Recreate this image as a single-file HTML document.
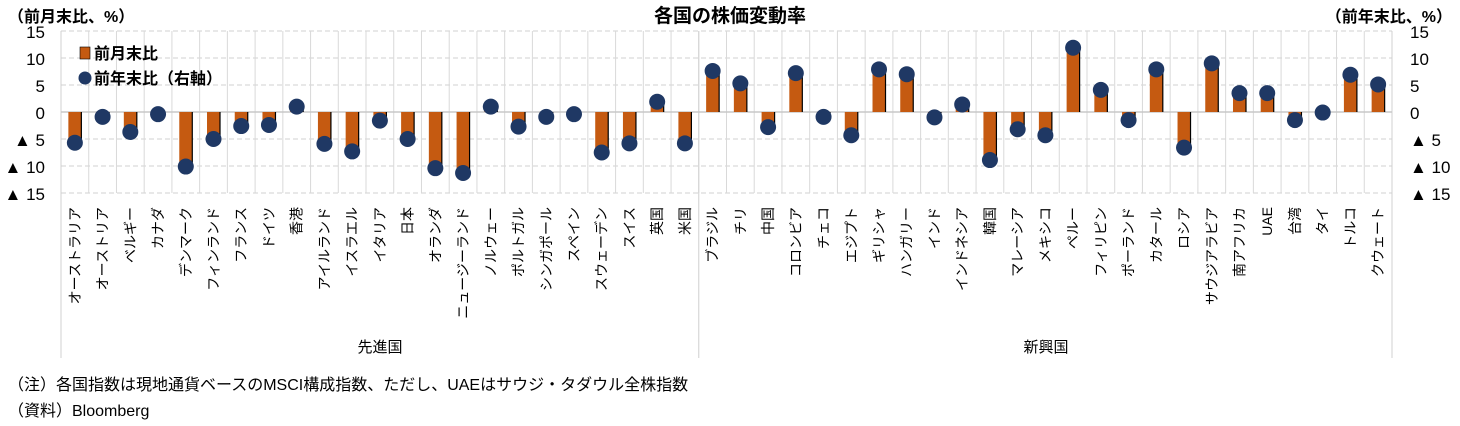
<!DOCTYPE html>
<html><head><meta charset="utf-8"><style>
html,body{margin:0;padding:0;background:#fff;}
svg{display:block;font-family:"Liberation Sans","Noto Sans CJK JP",sans-serif;}
</style></head><body>
<svg id="s" width="1460" height="426" viewBox="0 0 1460 426" xmlns="http://www.w3.org/2000/svg">
<rect width="1460" height="426" fill="#fff"/>
<text x="730" y="22" font-size="19" font-weight="bold" text-anchor="middle" fill="#000">各国の株価変動率</text>
<text x="8" y="22" font-size="16" font-weight="bold" fill="#000">（前月末比、%）</text>
<text x="1452" y="22" font-size="16" font-weight="bold" text-anchor="end" fill="#000">（前年末比、%）</text>
<g id="grid"></g>
<g id="bars"></g>
<g id="labels" font-size="14" fill="#000"></g>
<g font-size="17" fill="#000">
<text x="45" y="38" text-anchor="end">15</text>
<text x="45" y="65" text-anchor="end">10</text>
<text x="45" y="92" text-anchor="end">5</text>
<text x="45" y="119" text-anchor="end">0</text>
<text x="45" y="146" text-anchor="end">▲ 5</text>
<text x="45" y="173" text-anchor="end">▲ 10</text>
<text x="45" y="200" text-anchor="end">▲ 15</text>
<text x="1410" y="38">15</text>
<text x="1410" y="65">10</text>
<text x="1410" y="92">5</text>
<text x="1410" y="119">0</text>
<text x="1410" y="146">▲ 5</text>
<text x="1410" y="173">▲ 10</text>
<text x="1410" y="200">▲ 15</text>
</g>
<rect x="80" y="47" width="10" height="12" fill="#c55a11" stroke="#000" stroke-width="0.6"/>
<text x="94" y="59" font-size="16" font-weight="bold" fill="#000">前月末比</text>
<circle cx="85" cy="78" r="6.5" fill="#1f3864"/>
<text x="94" y="84" font-size="16" font-weight="bold" fill="#000">前年末比（右軸）</text>
<text x="380" y="352" font-size="15" text-anchor="middle" fill="#000">先進国</text>
<text x="1046" y="352" font-size="15" text-anchor="middle" fill="#000">新興国</text>
<text x="8" y="390" font-size="16" fill="#000">（注）各国指数は現地通貨ベースのMSCI構成指数、ただし、UAEはサウジ・タダウル全株指数</text>
<text x="8" y="416" font-size="16" fill="#000">（資料）Bloomberg</text>
</svg>
<script>
const names=["オーストラリア","オーストリア","ベルギー","カナダ","デンマーク","フィンランド","フランス","ドイツ","香港","アイルランド","イスラエル","イタリア","日本","オランダ","ニュージーランド","ノルウェー","ポルトガル","シンガポール","スペイン","スウェーデン","スイス","英国","米国","ブラジル","チリ","中国","コロンビア","チェコ","エジプト","ギリシャ","ハンガリー","インド","インドネシア","韓国","マレーシア","メキシコ","ペルー","フィリピン","ポーランド","カタール","ロシア","サウジアラビア","南アフリカ","UAE","台湾","タイ","トルコ","クウェート"];
const v=[-5.7,-0.5,-3.7,-0.3,-10.1,-5,-2.6,-2.4,1,-5.9,-7.3,-1.6,-5,-10.4,-11.3,1,-2.7,-0.9,-0.4,-7.5,-5.8,1.9,-5.8,7.6,5.3,-2.8,7.2,-0.9,-4.3,7.9,7,-1,1.4,-8.9,-3.2,-4.3,11.9,4.1,-1.5,7.9,-6.6,9,3.5,3.5,-1.5,-0.1,6.9,5.1];
const d=[-5.7,-0.9,-3.7,-0.4,-10.1,-5,-2.6,-2.4,1,-5.9,-7.3,-1.6,-5,-10.4,-11.3,1,-2.7,-0.9,-0.4,-7.5,-5.8,1.9,-5.8,7.6,5.3,-2.8,7.2,-0.9,-4.3,7.9,7,-1,1.4,-8.9,-3.2,-4.3,11.9,4.1,-1.5,7.9,-6.6,9,3.5,3.5,-1.5,-0.1,6.9,5.1];
const NS="http://www.w3.org/2000/svg";
const L=61,R=1392,W=(R-L)/48,Z=112,K=5.4;
function el(p,t,a,txt){const e=document.createElementNS(NS,t);for(const k in a)e.setAttribute(k,a[k]);if(txt)e.textContent=txt;document.getElementById(p).appendChild(e);}
for(const g of [15,10,5,-5,-10,-15]){el("grid","line",{x1:L,x2:R,y1:Z-g*K,y2:Z-g*K,stroke:"#d0d0d0","stroke-dasharray":"5,3","stroke-width":1});}
for(let i=1;i<48;i++){const x=L+i*W;el("grid","line",{x1:x,x2:x,y1:31,y2:193,stroke:"#d9d9d9","stroke-width":1});}
el("grid","line",{x1:L,x2:L,y1:31,y2:358,stroke:"#d0d0d0","stroke-width":1});
el("grid","line",{x1:R,x2:R,y1:31,y2:358,stroke:"#d0d0d0","stroke-width":1});
el("grid","line",{x1:L+23*W,x2:L+23*W,y1:31,y2:358,stroke:"#d0d0d0","stroke-width":1});
el("grid","line",{x1:L,x2:R,y1:Z,y2:Z,stroke:"#c8c8c8","stroke-width":1.5});
for(let i=0;i<48;i++){const cx=L+(i+0.5)*W;const h=v[i]*K;const y=h>0?Z-h:Z;
el("bars","rect",{x:cx-6.5,y:y,width:13,height:Math.abs(h),fill:"#c55a11"});
el("bars","line",{x1:cx+6.5,x2:cx+6.5,y1:y,y2:y+Math.abs(h),stroke:"#000","stroke-width":1.2});
el("bars","circle",{cx:cx,cy:Z-d[i]*K,r:8,fill:"#1f3864"});
el("labels","text",{x:0,y:0,transform:`translate(${cx+5},207) rotate(-90)`,"text-anchor":"end"},names[i]);}
</script>
</body></html>
